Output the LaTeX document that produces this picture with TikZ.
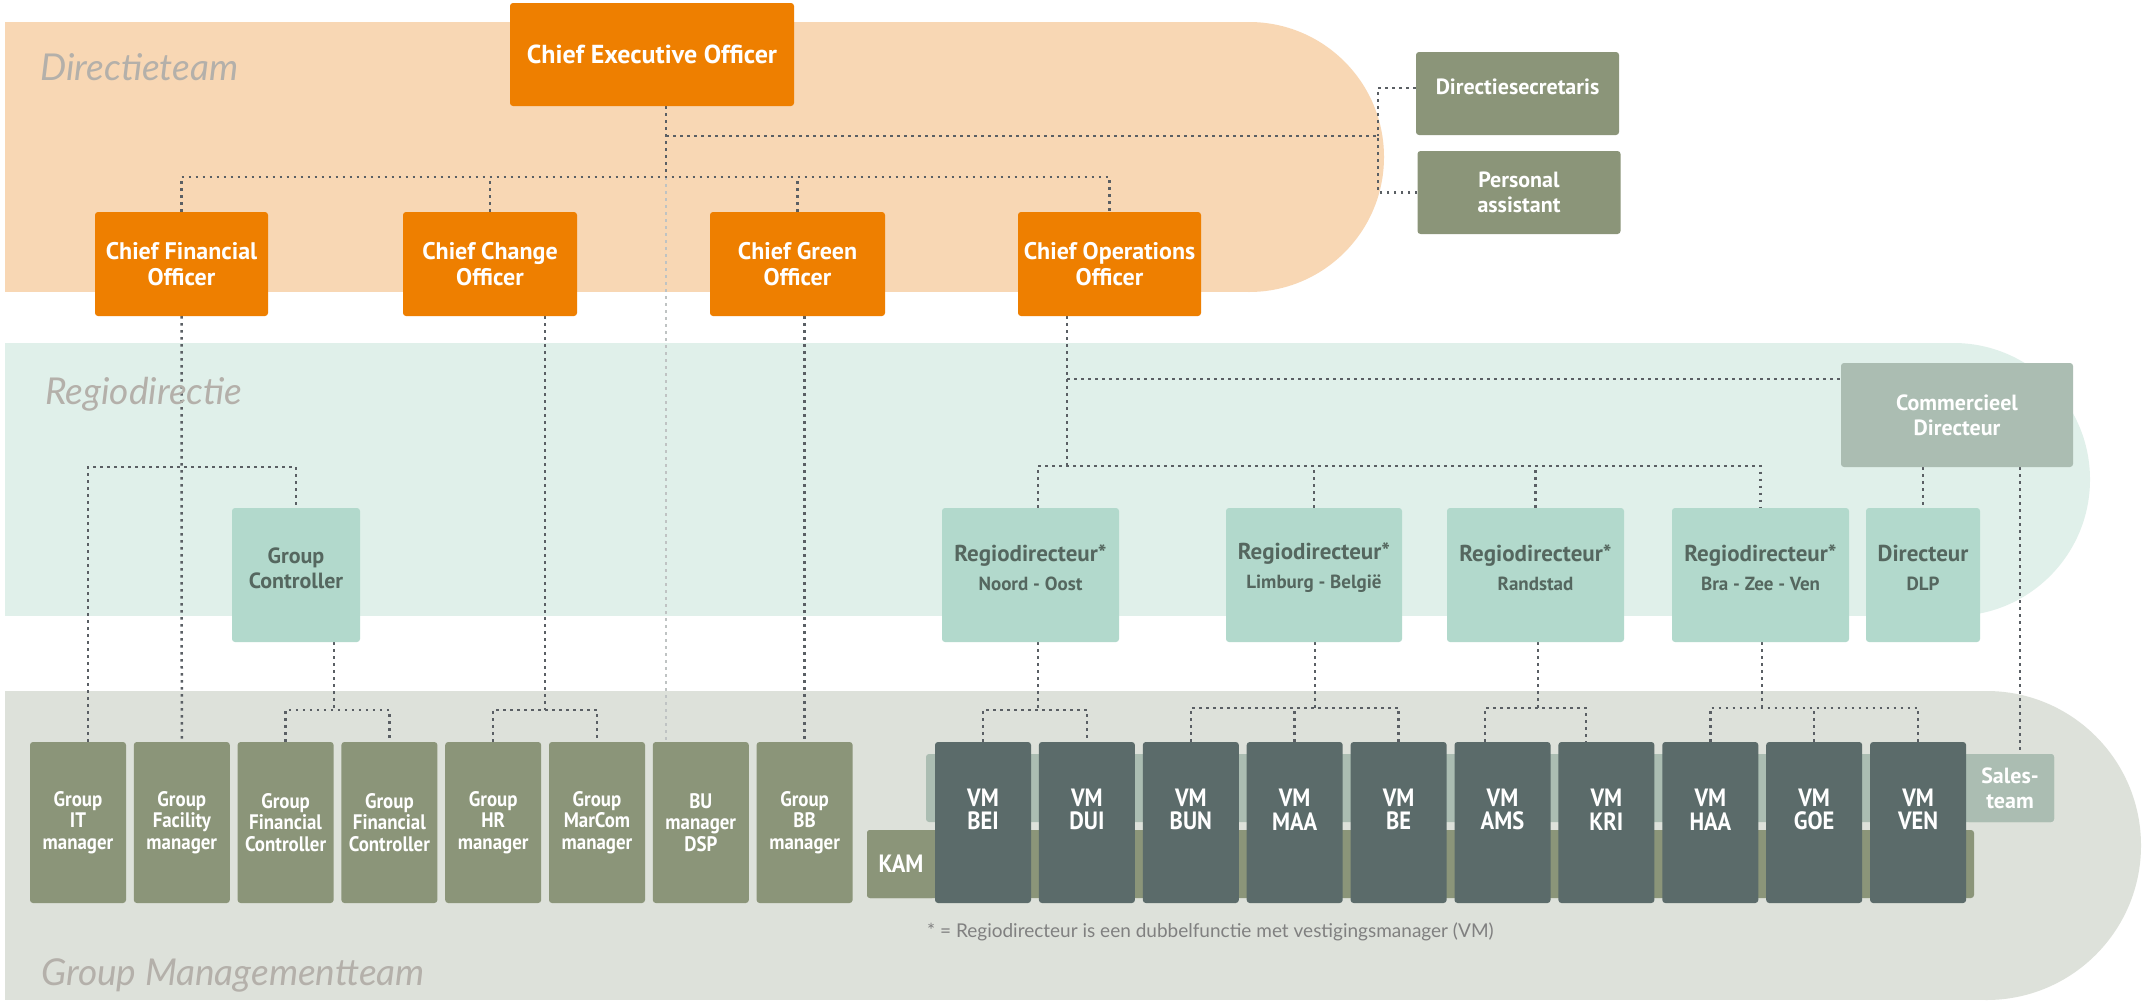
\documentclass[tikz,border=0pt]{standalone}
\usepackage{fontspec}
\setmainfont{PT Sans}
\newfontfamily\condfont{PT Sans}[FakeStretch=0.9]
\newfontfamily\lblfont{Lato}
\definecolor{cPeach}{HTML}{F8D7B4}
\definecolor{cTealBand}{HTML}{E0F0EA}
\definecolor{cGrayBand}{HTML}{DDE1DA}
\definecolor{cOrange}{HTML}{EE7F00}
\definecolor{cOlive}{HTML}{8B9579}
\definecolor{cSlate}{HTML}{5B6B6A}
\definecolor{cTealBox}{HTML}{B2D9CC}
\definecolor{cTealText}{HTML}{55675F}
\definecolor{cGrayGreen}{HTML}{ABBDB2}
\definecolor{cLabel}{HTML}{B4B0AA}
\definecolor{cNote}{HTML}{808080}
\definecolor{cDot}{HTML}{5A5F64}
\definecolor{cLight}{HTML}{BFC3C3}
\newcommand\rsub{\fontsize{19}{22}\selectfont}
\pgfdeclarelayer{bg}
\pgfdeclarelayer{lines}
\pgfsetlayers{bg,lines,main}
\begin{document}
\begin{tikzpicture}[x=1pt,y=-1pt,
  box/.style={rectangle, rounded corners=3pt, inner sep=0pt, align=center},
  obox/.style={box, fill=cOrange, text=white, minimum height=104pt, font=\bfseries\fontsize{24}{26}\selectfont},
  sbox/.style={box, fill=cOlive, text=white, minimum width=203pt, minimum height=83pt, font=\bfseries\fontsize{22}{25}\selectfont},
  stext/.style={align=center, inner sep=0pt, text=white, font=\bfseries\fontsize{22}{25}\selectfont},
  tbox/.style={box, fill=cTealBox, minimum height=134pt},
  ttext/.style={align=center, inner sep=0pt, text=cTealText, yshift=7pt, font=\bfseries\fontsize{23}{29}\selectfont},
  gbox/.style={box, fill=cGrayGreen, text=white, font=\bfseries\fontsize{22}{25}\selectfont},
  grpbox/.style={box, fill=cOlive, text=white, minimum width=96pt, minimum height=161pt, font=\condfont\bfseries\fontsize{21}{21.5}\selectfont},
  vmbox/.style={box, fill=cSlate, minimum width=96pt, minimum height=161pt},
  vmtext/.style={align=center, inner sep=0pt, text=white, font=\condfont\bfseries\fontsize{25}{23.5}\selectfont},
  bandlabel/.style={anchor=base west, inner sep=0pt, text=cLabel, font=\lblfont\itshape\fontsize{37}{40}\selectfont},
  dl/.style={draw=cDot, line width=2.5pt, dash pattern=on 2.5pt off 4.5pt},
  ll/.style={dl, draw=cLight}
]
\useasboundingbox (0,0) rectangle (2147,1001);

% ---------- nodes ----------
\node[obox, minimum width=284pt, minimum height=103pt, font=\bfseries\fontsize{26}{28}\selectfont] (ceo) at (652,54.5) {Chief Executive Officer};
\node[obox, minimum width=173pt] (cfo) at (181.5,264) {Chief Financial\\Officer};
\node[obox, minimum width=174pt] (cco) at (490,264) {Chief Change\\Officer};
\node[obox, minimum width=175pt] (cgo) at (797.5,264) {Chief Green\\Officer};
\node[obox, minimum width=183pt] (coo) at (1109.5,264) {Chief Operations\\Officer};

\node[sbox] (ds) at (1517.5,93.5) {};
\node[stext, yshift=7pt] (dsT) at (ds) {Directiesecretaris};
\node[sbox] (pa) at (1519,192.5) {Personal\\assistant};

\node[tbox, minimum width=128pt] (gc) at (296,575) {};
\node[ttext, font=\bfseries\fontsize{22}{25}\selectfont] (gcT) at (gc) {Group\\Controller};
\node[tbox, minimum width=177pt] (rNO) at (1030.5,575) {};
\node[ttext] (rNOT) at (rNO) {Regiodirecteur*\\{\rsub Noord - Oost}};
\node[tbox, minimum width=176pt] (rLB) at (1314,575) {};
\node[ttext] (rLBT) at (rLB) {Regiodirecteur*\\{\rsub Limburg - België}};
\node[tbox, minimum width=177pt] (rRS) at (1535.5,575) {};
\node[ttext] (rRST) at (rRS) {Regiodirecteur*\\{\rsub Randstad}};
\node[tbox, minimum width=177pt] (rBZV) at (1760.5,575) {};
\node[ttext] (rBZVT) at (rBZV) {Regiodirecteur*\\{\rsub Bra - Zee - Ven}};
\node[tbox, minimum width=114pt] (dlp) at (1923,575) {};
\node[ttext] (dlpT) at (dlp) {Directeur\\{\rsub DLP}};
\node[gbox, minimum width=232pt, minimum height=104pt] (cd) at (1957,415) {Commercieel\\Directeur};

\node[grpbox] (it)   at (78,822.5)    {Group\\IT\\manager};
\node[grpbox] (fac)  at (181.8,822.5) {Group\\Facility\\manager};
\node[grpbox] (gfc1) at (285.6,822.5) {Group\\Financial\\Controller};
\node[grpbox] (gfc2) at (389.4,822.5) {Group\\Financial\\Controller};
\node[grpbox] (hr)   at (493.2,822.5) {Group\\HR\\manager};
\node[grpbox] (mc)   at (597,822.5)   {Group\\MarCom\\manager};
\node[grpbox] (bu)   at (700.8,822.5) {BU\\manager\\DSP};
\node[grpbox] (bb)   at (804.6,822.5) {Group\\BB\\manager};

\node[box, fill=cOlive, text=white, minimum width=68pt, minimum height=68pt, font=\condfont\bfseries\fontsize{25}{26}\selectfont] (kam) at (901,864) {KAM};
\node[gbox, minimum width=88pt, minimum height=68pt] (sales) at (2010,788) {Sales-\\team};

\foreach \i/\lab in {1/BEI,2/DUI,3/BUN,4/MAA,5/BE,6/AMS,7/KRI,8/HAA,9/GOE,10/VEN} {
  \node[vmbox] (vm\i) at ({983+(\i-1)*103.9},822.5) {};
  \node[vmtext, yshift=13pt] (vmt\i) at (vm\i) {VM\\\lab};
}

\node[bandlabel] (lblDir) at (40,80) {Directieteam};
\node[bandlabel] (lblReg) at (45,404) {Regiodirectie};
\node[bandlabel] (lblGM) at (41,985) {Group Managementteam};
\node[anchor=base west, inner sep=0pt, text=cNote, font=\lblfont\fontsize{19}{20}\selectfont] (note) at (927,937) {* = Regiodirecteur is een dubbelfunctie met vestigingsmanager (VM)};

% ---------- background bands ----------
\begin{pgfonlayer}{bg}
\fill[white] (0,0) rectangle (2147,1001);
\fill[cPeach] (5,22) rectangle (1249,292);
\fill[cPeach] (1249,157) circle[radius=135];
\fill[cTealBand] (5,343) rectangle (1953.5,616);
\fill[cTealBand] (1953.5,479.5) circle[radius=136.5];
\fill[cGrayBand] (5,691) rectangle (1986.5,1000);
\fill[cGrayBand] (1986.5,845.5) circle[radius=154.5];
\fill[cGrayGreen, rounded corners=3pt] (926,754) rectangle (2054,822);
\fill[cOlive, rounded corners=3pt] (867,830) rectangle (1974,898);
\end{pgfonlayer}

% ---------- connectors ----------
\begin{pgfonlayer}{lines}
\coordinate (busTop) at (666,177);
\coordinate (secJ) at (666,136);
\coordinate (secV) at (1378,136);
\coordinate (dsY) at (1378,88);
\draw[dl] (ceo.south -| busTop) -- (busTop);
\draw[ll] (busTop) -- (bu.north -| busTop);
\draw[dl] (cfo.north) |- (busTop) -| (coo.north);
\draw[dl] (cco.north) -- (cco.north |- busTop);
\draw[dl] (cgo.north) -- (cgo.north |- busTop);
\draw[dl] (secJ) -- (secV);
\draw[dl] (ds.west |- dsY) -- (dsY) -- (secV);
\draw[dl] (pa.west) -| (secV);

% CFO
\coordinate (itJ) at (88,467);
\draw[dl] (cfo.south) -- (fac.north);
\draw[dl] (it.north -| itJ) -- (itJ) -| (gc.north);
% Group Controller
\coordinate (gcJ) at (334,710);
\draw[dl] (gc.south -| gcJ) -- (gcJ);
\draw[dl] (gfc1.north) |- (gcJ) -| (gfc2.north);
% CCO
\coordinate (ccoJ) at (545,710);
\draw[dl] (cco.south -| ccoJ) -- (ccoJ);
\draw[dl] (hr.north) |- (ccoJ) -| (mc.north);
% CGO
\draw[dl] (cgo.south -| bb.north) -- (bb.north);
% COO
\coordinate (cooJ) at (1067,466);
\coordinate (cdJ) at (1067,379);
\coordinate (noX) at (1038,466);
\draw[dl] (coo.south -| cooJ) -- (cooJ);
\draw[dl] (cdJ) -- (cd.west |- cdJ);
\draw[dl] (rNO.north -| noX) |- (cooJ) -| (rBZV.north);
\draw[dl] (rLB.north) -- (rLB.north |- cooJ);
\draw[dl] (rRS.north) -- (rRS.north |- cooJ);
% Commercieel Directeur
\coordinate (salesX) at (2020,467);
\draw[dl] (cd.south -| dlp.north) -- (dlp.north);
\draw[dl] (cd.south -| salesX) -- (sales.north -| salesX);
% Regio -> VM
\coordinate (noJ) at (1038,710);
\draw[dl] (rNO.south -| noJ) -- (noJ);
\draw[dl] (vm1.north) |- (noJ) -| (vm2.north);
\coordinate (lbJ) at (1315,708);
\draw[dl] (rLB.south -| lbJ) -- (lbJ);
\draw[dl] (vm3.north) |- (lbJ) -| (vm5.north);
\draw[dl] (vm4.north) -- (vm4.north |- lbJ);
\coordinate (rsJ) at (1538,708);
\coordinate (amsX) at (1485,708);
\coordinate (kriX) at (1586,708);
\draw[dl] (rRS.south -| rsJ) -- (rsJ);
\draw[dl] (vm6.north -| amsX) -- (amsX) -- (kriX) -- (vm7.north -| kriX);
\coordinate (bzJ) at (1762,708);
\draw[dl] (rBZV.south -| bzJ) -- (bzJ);
\draw[dl] (vm8.north) |- (bzJ) -| (vm10.north);
\draw[dl] (vm9.north) -- (vm9.north |- bzJ);
\end{pgfonlayer}
\end{tikzpicture}
\end{document}
